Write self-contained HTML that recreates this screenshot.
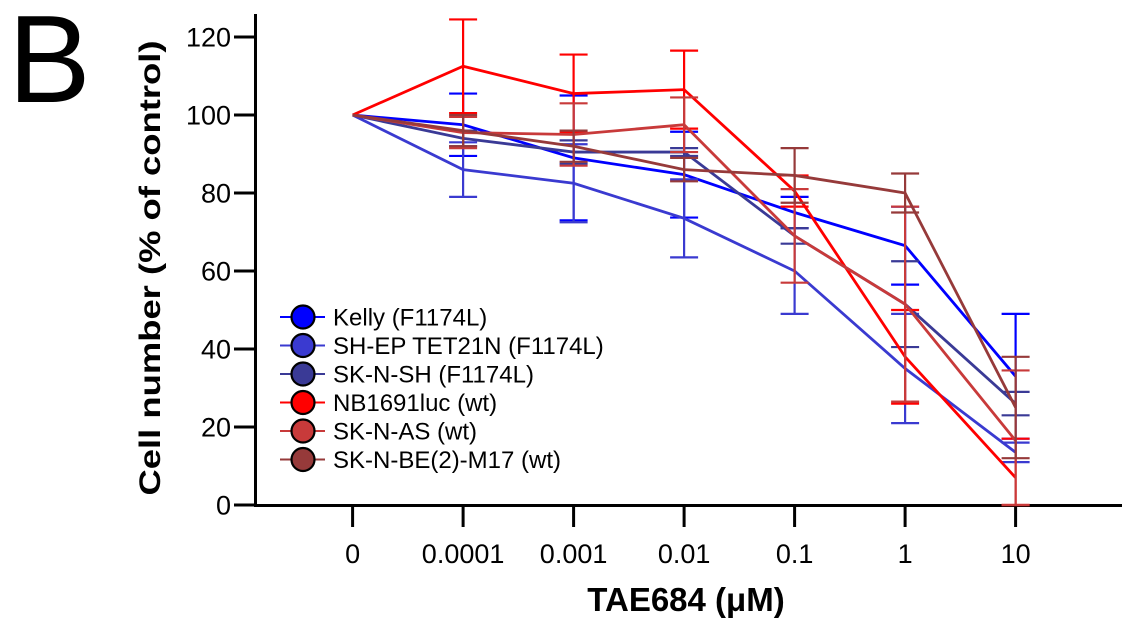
<!DOCTYPE html>
<html><head><meta charset="utf-8"><style>
html,body{margin:0;padding:0;background:#fff;}
svg{display:block;font-family:"Liberation Sans",Arial,sans-serif;}
</style></head><body>
<svg id="chart" width="1126" height="632" viewBox="0 0 1126 632">
<text x="8" y="102" font-size="124">B</text>
<g id="axes"></g>
<g id="series"></g>
<g id="legend"></g>
<text x="686" y="611" font-size="33" font-weight="bold" text-anchor="middle">TAE684 (μM)</text>
<text transform="translate(160,268) rotate(-90)" font-size="30" font-weight="bold" text-anchor="middle" textLength="455" lengthAdjust="spacingAndGlyphs">Cell number (% of control)</text>
</svg>
<script>
const categories = ["0","0.0001","0.001","0.01","0.1","1","10"];
const yTicks = [0,20,40,60,80,100,120];
const seriesNames = ["Kelly (F1174L)","SH-EP TET21N (F1174L)","SK-N-SH (F1174L)","NB1691luc (wt)","SK-N-AS (wt)","SK-N-BE(2)-M17 (wt)"];
const seriesColors = ["#0000ff","#3a3ad0","#3a3a96","#ff0000","#c83a3a","#963a3a"];
const kellyVals = [100,97.5,89,84.7,75,66.5,33];
const kellyErr = [0,8,16,11,4,10,16];
const shepVals = [100,86,82.5,73.5,60,35,13.5];
const shepErr = [0,7,10,10,11,14,2.5];
const sknshVals = [100,94,90.5,90.5,69,51.5,26];
const sknshErr = [0,2,3,1,2,11,3];
const nbVals = [100,112.5,105.5,106.5,80.5,38,7];
const nbErr = [0,12,10,10,4,12,10];
const snasVals = [100,95.5,95,97.5,69,51.5,16.5];
const snasErr = [0,4,8,7,12,25,18];
const snbeVals = [100,96,92,86,84.5,80,25];
const snbeErr = [0,4,4,3,7,5,13];
const allVals = [kellyVals,shepVals,sknshVals,nbVals,snasVals,snbeVals];
const allErr = [kellyErr,shepErr,sknshErr,nbErr,snasErr,snbeErr];

const NS="http://www.w3.org/2000/svg";
const X0=352.6, DX=110.5, Y0=505, PXU=3.9;
const xs = i => X0 + i*DX;
const ys = v => Y0 - v*PXU;
function mk(tag, attrs, parent){const e=document.createElementNS(NS,tag);for(const k in attrs)e.setAttribute(k,attrs[k]);parent.appendChild(e);return e;}
const axes=document.getElementById('axes');
let yl=mk('line',{x1:255.5,y1:14,x2:255.5,y2:506.5,stroke:'#000','stroke-width':3},axes);


let xl=mk('line',{x1:254,y1:505.5,x2:1122,y2:505.5,stroke:'#000','stroke-width':3},axes);


yTicks.forEach(v=>{
  const t=mk('line',{x1:234,x2:255,y1:ys(v),y2:ys(v),stroke:'#000','stroke-width':3},axes);
  
  
  const l=mk('text',{x:231,y:ys(v)+9.5,'font-size':27,'text-anchor':'end'},axes);
  l.textContent=v;
  
  
});
categories.forEach((c,i)=>{
  const t=mk('line',{x1:xs(i),x2:xs(i),y1:506,y2:527,stroke:'#000','stroke-width':3},axes);
  
  
  const l=mk('text',{x:xs(i),y:563,'font-size':27,'text-anchor':'middle'},axes);
  l.textContent=c;
  
  
});
const sg=document.getElementById('series');
allVals.forEach((vals,s)=>{
  const col=seriesColors[s];
  const g=mk('g',{},sg);
  
  
  vals.forEach((v,i)=>{
    const e=allErr[s][i]; if(!e) return;
    const x=xs(i);
    const b=mk('path',{d:`M${x},${ys(v+e)}V${ys(Math.max(0,v-e))}M${x-14},${ys(v+e)}H${x+14}M${x-14},${ys(Math.max(0,v-e))}H${x+14}`,stroke:col,'stroke-width':2.2,fill:'none'},g);
    
    
  });
  const p=mk('polyline',{points:vals.map((v,i)=>xs(i)+','+ys(v)).join(' '),stroke:col,'stroke-width':2.8,fill:'none'},g);
  
  
});
const lg=document.getElementById('legend');
seriesNames.forEach((n,s)=>{
  const y=317+s*28.5;
  const g=mk('g',{},lg);
  
  
  mk('line',{x1:280,x2:325,y1:y,y2:y,stroke:seriesColors[s],'stroke-width':2},g);
  mk('circle',{cx:303,cy:y,r:11.5,fill:seriesColors[s],stroke:'#000','stroke-width':2.2},g);
  const t=mk('text',{x:333,y:y+8.5,'font-size':24},g);
  t.textContent=n;
});
</script>
</body></html>
